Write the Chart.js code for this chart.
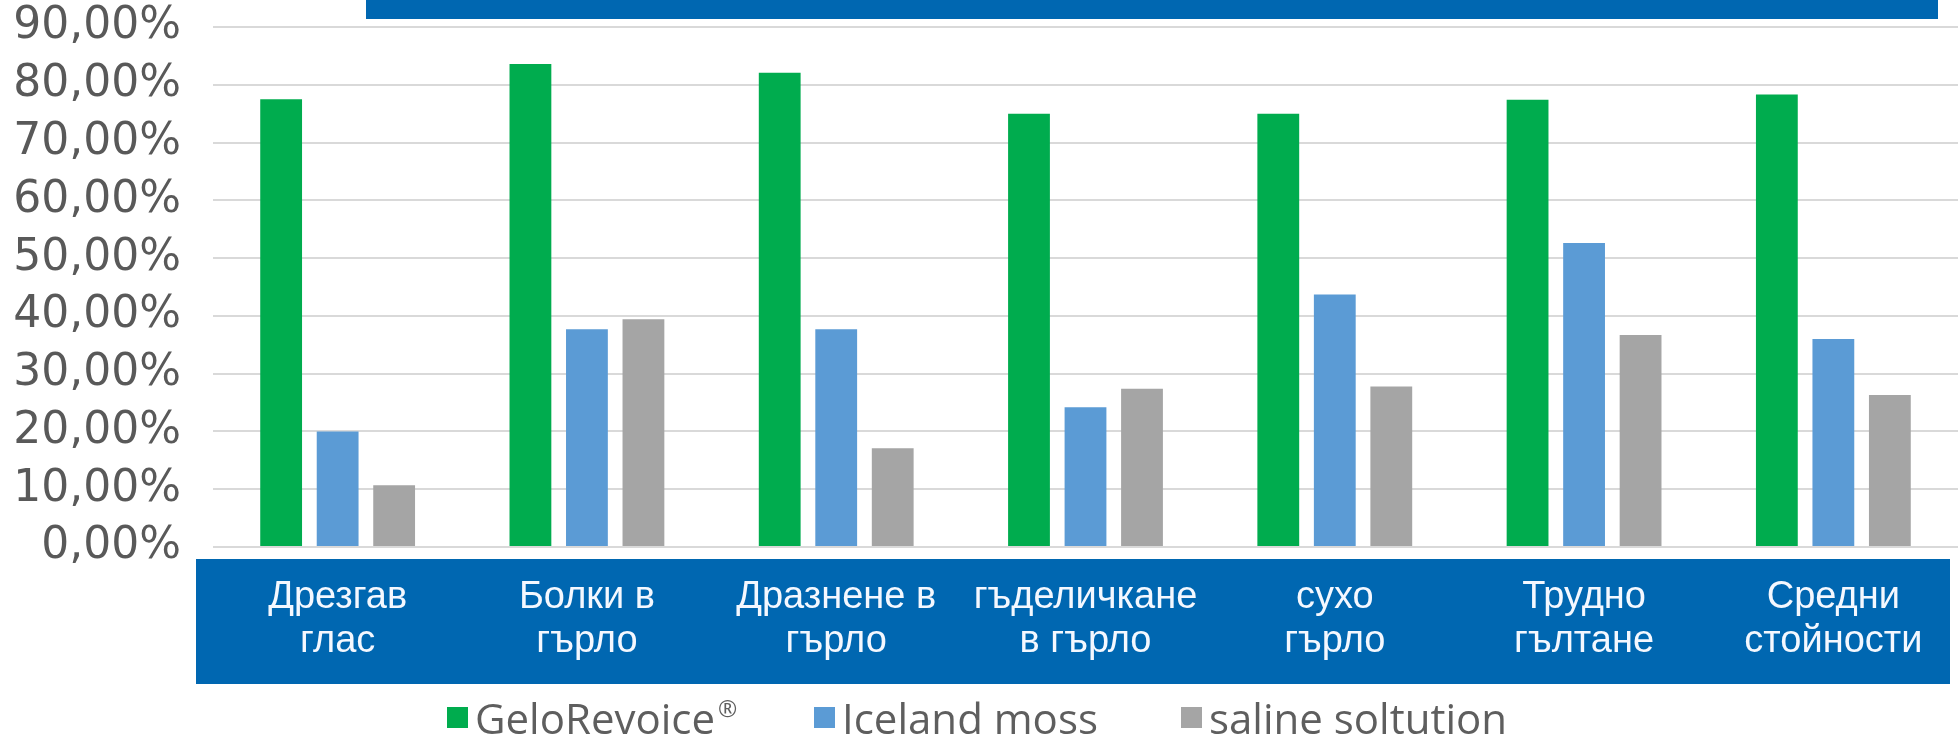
<!DOCTYPE html>
<html>
<head>
<meta charset="utf-8">
<script src="https://cdn.jsdelivr.net/npm/chart.js@4.4.1/dist/chart.umd.min.js"></script>
<style>
  body { margin: 0; background: #fff; overflow: hidden; }
  #wrap { position: relative; width: 1960px; height: 745px; }
  #legend { position: absolute; top: 695px; left: 0; width: 1960px; height: 44px;
            font-family: 'Open Sans', sans-serif; font-size: 42px; color: #5E5E5E; }
  .item { position: absolute; top: 0; height: 44px; display: flex; align-items: center; white-space: nowrap; }
  .sw { width: 21px; height: 21px; margin-right: 7px; }
  sup { font-size: 0.55em; vertical-align: 0.7em; margin-left: 3px; }
</style>
</head>
<body>
<div id="wrap">
  <canvas id="chart" width="1960" height="745"></canvas>
  <div id="legend"></div>
</div>
<script>
// Dados do gráfico (em %)
const categories = [
  ['Дрезгав', 'глас'],
  ['Болки в', 'гърло'],
  ['Дразнене в', 'гърло'],
  ['гъделичкане', 'в гърло'],
  ['сухо', 'гърло'],
  ['Трудно', 'гълтане'],
  ['Средни', 'стойности']
];
const seriesNames = ['GeloRevoice®', 'Iceland moss', 'saline soltution'];
const geloRevoice = [77.5, 83.6, 82.1, 75.0, 75.0, 77.4, 78.3];
const icelandMoss = [20.0, 37.7, 37.7, 24.2, 43.7, 52.6, 36.0];
const salineSolution = [10.7, 39.4, 17.1, 27.4, 27.8, 36.7, 26.3];
const yMin = 0, yMax = 90, yStep = 10;

const colors = ['#00AC4E', '#5B9BD5', '#A5A5A5'];
const boxBlue = '#0067B1';

// Faixas azuis do slide (caixa das categorias e barra do topo)
const bandsPlugin = {
  id: 'bands',
  beforeDraw(chart) {
    const { ctx, chartArea } = chart;
    ctx.save();
    ctx.fillStyle = boxBlue;
    ctx.fillRect(chartArea.left - 17, chartArea.bottom + 12, 1950 - chartArea.left + 17, 125);
    ctx.fillRect(366, 0, 1572, 19);
    ctx.restore();
  }
};

// Zera o padding automático das escalas para controlar a área do gráfico
const noPad = scale => { scale.paddingTop = 0; scale.paddingBottom = 0; scale.paddingLeft = 0; scale.paddingRight = 0; };

new Chart(document.getElementById('chart'), {
  type: 'bar',
  data: {
    labels: categories,
    datasets: [
      { label: seriesNames[0], data: geloRevoice, backgroundColor: colors[0] },
      { label: seriesNames[1], data: icelandMoss, backgroundColor: colors[1] },
      { label: seriesNames[2], data: salineSolution, backgroundColor: colors[2] }
    ]
  },
  options: {
    responsive: false,
    devicePixelRatio: 1,
    animation: false,
    categoryPercentage: 0.68,
    barPercentage: 0.74,
    layout: { padding: { top: 27, right: 2, left: 0, bottom: 61 } },
    plugins: {
      legend: { display: false },
      tooltip: { enabled: false }
    },
    scales: {
      x: {
        grid: { display: false, drawTicks: false },
        border: { display: false },
        ticks: {
          color: '#F4F8FF',
          font: { family: 'Liberation Sans', size: 38, lineHeight: 1.15 },
          padding: 29,
          maxRotation: 0,
          autoSkip: false
        },
        afterFit(scale) { scale.height = 137; noPad(scale); }
      },
      y: {
        min: yMin,
        max: yMax,
        grid: { color: '#D9D9D9', lineWidth: 2, drawTicks: false },
        border: { display: false },
        ticks: {
          stepSize: yStep,
          color: '#595959',
          font: { family: 'DejaVu Sans', size: 44 },
          padding: 32,
          callback: v => v.toFixed(2).replace('.', ',') + '%'
        },
        afterFit(scale) { scale.width = 213; noPad(scale); }
      }
    }
  },
  plugins: [bandsPlugin]
});

// Legenda em HTML
const legendLefts = [447, 814, 1181];
const legend = document.getElementById('legend');
seriesNames.forEach((name, i) => {
  const item = document.createElement('div');
  item.className = 'item';
  item.style.left = legendLefts[i] + 'px';
  const text = name.replace('®', '<sup>®</sup>');
  item.innerHTML = `<span class="sw" style="background:${colors[i]}"></span><span>${text}</span>`;
  legend.appendChild(item);
});
</script>
</body>
</html>
